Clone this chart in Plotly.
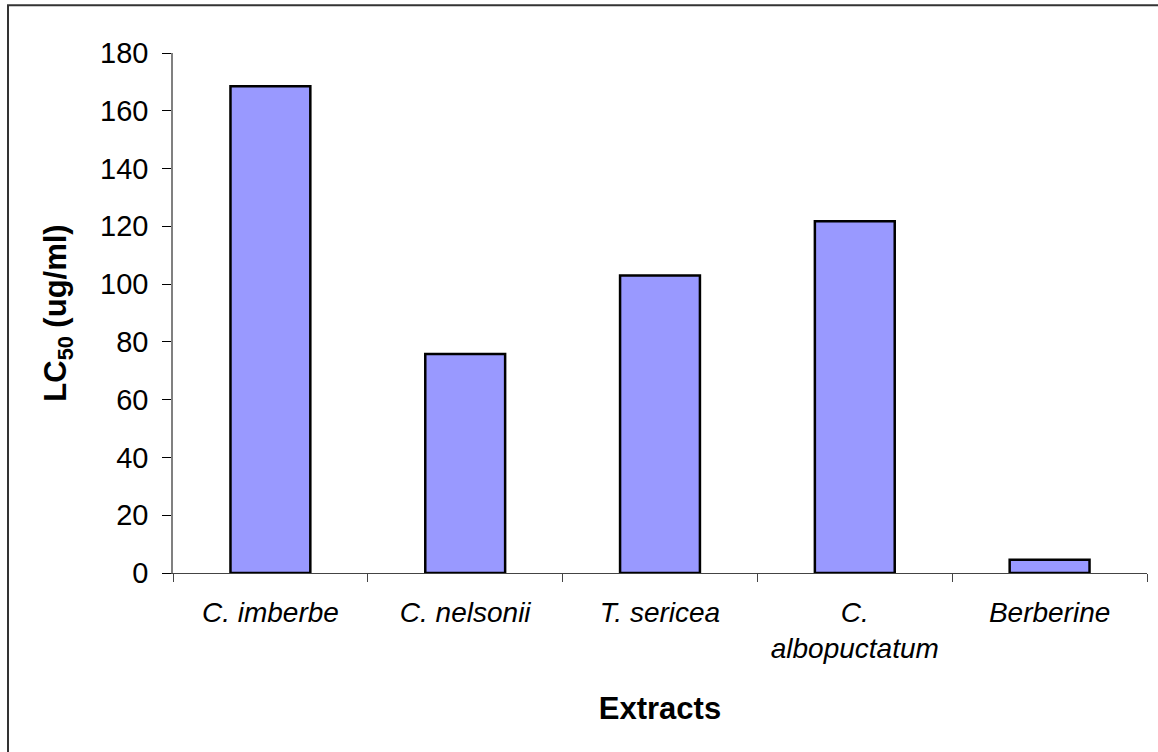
import plotly.graph_objects as go

categories = ["C. imberbe", "C. nelsonii", "T. sericea", "C.<br>albopuctatum", "Berberine"]
lc50_values = [168.5, 75.8, 103.0, 121.8, 4.6]
y_ticks = [0, 20, 40, 60, 80, 100, 120, 140, 160, 180]

FONT = "Arial, Liberation Sans, sans-serif"

fig = go.Figure(
    go.Bar(
        x=categories,
        y=lc50_values,
        width=0.41,
        marker=dict(color="#9999FF", line=dict(color="#000000", width=2.5)),
    )
)

fig.update_layout(
    width=1158,
    height=752,
    margin=dict(l=173, r=11, t=53, b=179),
    paper_bgcolor="white",
    plot_bgcolor="white",
    showlegend=False,
    font=dict(family=FONT, color="black"),
    bargap=0.59,
)

fig.update_xaxes(
    type="category",
    range=[-0.5, 4.5],
    tickson="boundaries",
    ticks="outside",
    ticklen=8,
    tickcolor="#444444",
    showline=True,
    linecolor="#444444",
    linewidth=1,
    showgrid=False,
    ticklabelstandoff=14,
    tickfont=dict(family=FONT, size=28, style="italic"),
    title=dict(text="Extracts", font=dict(family=FONT, size=31, weight="bold"), standoff=34),
)

fig.update_yaxes(
    range=[0, 180],
    tickvals=y_ticks,
    ticks="outside",
    ticklen=9,
    tickcolor="#000000",
    showline=True,
    linecolor="#808080",
    linewidth=1.5,
    showgrid=False,
    zeroline=False,
    ticklabelstandoff=8,
    tickfont=dict(family=FONT, size=29),
    title=dict(text="LC<sub>50</sub> (ug/ml)", font=dict(family=FONT, size=31, weight="bold"), standoff=24),
)

fig.add_shape(
    type="rect",
    xref="paper",
    yref="paper",
    x0=-0.1694,
    x1=1.05,
    y0=-0.5,
    y1=1.0917,
    line=dict(color="#333333", width=2),
    fillcolor="rgba(0,0,0,0)",
    layer="below",
)

fig.write_html("out.html")
